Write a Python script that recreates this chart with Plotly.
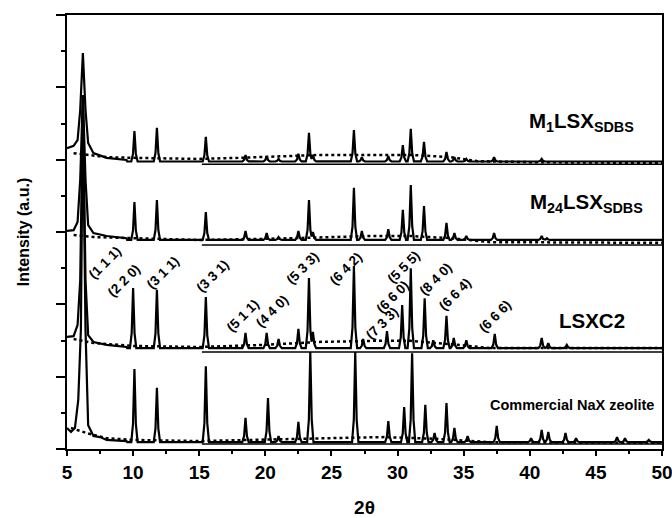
import numpy as np
import plotly.graph_objects as go

# ---------------- data ----------------
# low-angle part of every pattern (2theta, intensity a.u.)
m1_lead_x = [5.0, 5.5, 5.8, 6.0, 6.2, 6.4, 6.6, 7.0, 8.0, 9.5]
m1_lead_y = [8.32, 8.38, 8.54, 9.37, 10.95, 9.37, 8.46, 8.18, 8.05, 7.99]
m24_lead_x = [5.0, 5.5, 5.8, 6.0, 6.2, 6.4, 6.6, 7.0, 8.0, 9.5]
m24_lead_y = [6.03, 6.05, 6.28, 7.44, 9.79, 7.44, 6.19, 5.97, 5.89, 5.83]
lsx_lead_x = [5.0, 5.5, 5.8, 6.0, 6.2, 6.4, 6.6, 7.0, 8.0, 9.5]
lsx_lead_y = [3.10, 3.12, 3.43, 4.67, 9.65, 4.67, 3.15, 2.96, 2.88, 2.82]
com_lead_x = [5.0, 5.3, 5.6, 5.85, 6.05, 6.2, 6.4, 6.6, 7.0, 7.5, 8.0, 9.5]
com_lead_y = [0.58, 0.47, 0.58, 1.35, 3.29, 9.37, 3.29, 0.66, 0.36, 0.33, 0.25, 0.22]

# flat background level of each pattern above 9.5 deg
m1_base, m24_base, lsx_base, com_base = 7.95, 5.78, 2.79, 0.19

# reflections: position and top intensity
m1_pk_x = [10.1, 11.8, 15.5, 18.5, 20.1, 21.0, 22.5, 23.3, 23.6, 26.7, 27.3, 29.3,
           30.4, 31.0, 32.0, 33.7, 34.3, 35.2, 37.3, 40.9]
m1_pk_y = [8.79, 8.88, 8.63, 8.13, 8.10, 8.02, 8.16, 8.74, 8.13, 8.82, 8.07, 8.10,
           8.40, 8.85, 8.49, 8.21, 8.07, 8.02, 8.07, 8.02]
m24_pk_x = [10.1, 11.8, 15.5, 18.5, 20.1, 21.0, 22.5, 23.3, 23.6, 26.7, 27.3, 29.3,
            30.4, 31.0, 32.0, 33.7, 34.3, 35.2, 37.3, 40.9, 41.3]
m24_pk_y = [6.83, 6.88, 6.55, 6.03, 5.97, 5.86, 6.03, 6.88, 6.00, 7.22, 6.03, 6.08,
            6.61, 7.30, 6.72, 6.25, 5.97, 5.89, 5.97, 5.89, 5.83]
lsx_pk_x = [10.0, 11.8, 15.5, 18.5, 20.1, 21.0, 22.5, 23.3, 23.6, 26.7, 27.4, 29.2,
            30.35, 31.0, 32.05, 32.7, 33.7, 34.25, 35.2, 37.35, 40.9, 41.4, 42.8]
lsx_pk_y = [4.45, 4.40, 4.20, 3.21, 3.21, 3.04, 3.32, 4.73, 3.24, 5.06, 3.04, 3.26,
            3.98, 5.00, 4.17, 3.01, 3.68, 3.07, 3.01, 3.18, 3.07, 2.93, 2.88]
com_pk_x = [10.1, 11.8, 15.5, 18.5, 20.2, 21.0, 22.5, 23.4, 26.8, 29.3, 30.5, 31.1,
            32.1, 32.8, 33.7, 34.3, 35.3, 37.5, 40.1, 40.9, 41.4, 42.7, 43.5, 46.6,
            47.2, 49.0]
com_pk_y = [2.21, 1.69, 2.29, 0.86, 1.41, 0.36, 0.75, 2.68, 2.68, 0.77, 1.16, 2.65,
            1.22, 0.44, 1.27, 0.58, 0.36, 0.64, 0.30, 0.53, 0.47, 0.44, 0.30, 0.33,
            0.30, 0.25]

# dotted background curves
m1_bg_x = [5.5, 6.5, 8, 10, 15, 18, 21, 24, 28, 31, 34, 36, 40, 50]
m1_bg_y = [8.18, 8.13, 8.07, 8.05, 8.02, 8.05, 8.10, 8.13, 8.13, 8.13, 8.07, 7.96, 7.93, 7.91]
m24_bg_x = [5.5, 7, 10, 15, 20, 24, 28, 31, 34, 37, 50]
m24_bg_y = [5.92, 5.86, 5.83, 5.78, 5.81, 5.86, 5.89, 5.89, 5.83, 5.72, 5.70]
lsx_bg_x = [5.5, 7, 10, 15, 20, 24, 28, 31, 34, 37, 50]
lsx_bg_y = [3.04, 2.93, 2.85, 2.82, 2.88, 2.96, 2.99, 2.99, 2.90, 2.79, 2.79]
com_bg_x = [5.3, 6.5, 8, 10, 15, 20, 25, 29, 33, 37, 50]
com_bg_y = [0.58, 0.44, 0.30, 0.25, 0.22, 0.25, 0.30, 0.33, 0.28, 0.19, 0.17]

# solid reference lines (start, level)
ref_start = 15.2
ref_levels = [7.87, 5.64, 2.68, 0.14]

# Miller-index labels
hkl_text = ["(1 1 1)", "(2 2 0)", "(3 1 1)", "(3 3 1)", "(5 1 1)", "(4 4 0)", "(5 3 3)",
            "(6 4 2)", "(5 5 5)", "(6 6 0)", "(7 3 3)", "(8 4 0)", "(6 6 4)", "(6 6 6)"]
hkl_x = [7.87, 9.31, 12.26, 15.97, 18.31, 20.51, 22.78, 26.1, 30.42, 29.58, 28.83,
         32.84, 34.35, 37.38]
hkl_y = [5.17, 4.67, 4.89, 4.78, 3.70, 3.79, 5.00, 5.00, 5.03, 4.20, 3.46, 4.70,
         4.26, 3.65]

x_ticks = [5, 10, 15, 20, 25, 30, 35, 40, 45, 50]

# ---------------- build profiles ----------------
HW = 0.24  # half width of a drawn reflection (style)


def profile(lead_x, lead_y, base, px, py):
    px = np.asarray(px, float)
    py = np.asarray(py, float)
    xs = [lead_x[-1] + 0.05]
    for p in px:
        xs += [p - HW, p - 0.45 * HW, p, p + 0.45 * HW, p + HW]
    xs.append(50.0)
    xs = np.unique(np.array(xs))
    xs = xs[xs > lead_x[-1]]
    ys = np.full(xs.shape, base)
    for p, h in zip(px, py):
        d = np.abs(xs - p)
        tri = np.where(d <= 0.45 * HW,
                       h - (h - base) * (d / (0.45 * HW)) * 0.75,
                       base + (h - base) * 0.25 * np.clip((HW - d) / (0.55 * HW), 0, 1))
        ys = np.maximum(ys, tri)
    return list(lead_x) + list(xs), list(lead_y) + list(ys)


fig = go.Figure()
series = [
    (m1_lead_x, m1_lead_y, m1_base, m1_pk_x, m1_pk_y, m1_bg_x, m1_bg_y),
    (m24_lead_x, m24_lead_y, m24_base, m24_pk_x, m24_pk_y, m24_bg_x, m24_bg_y),
    (lsx_lead_x, lsx_lead_y, lsx_base, lsx_pk_x, lsx_pk_y, lsx_bg_x, lsx_bg_y),
    (com_lead_x, com_lead_y, com_base, com_pk_x, com_pk_y, com_bg_x, com_bg_y),
]
for (lx, ly, b, pkx, pky, bgx, bgy), lvl in zip(series, ref_levels):
    fig.add_trace(go.Scatter(x=bgx, y=bgy, mode="lines",
                             line=dict(color="black", width=2.5, dash="dot"),
                             hoverinfo="skip"))
    fig.add_trace(go.Scatter(x=[ref_start, 50], y=[lvl, lvl], mode="lines",
                             line=dict(color="black", width=1.5), hoverinfo="skip"))
    X, Y = profile(lx, ly, b, pkx, pky)
    fig.add_trace(go.Scatter(x=X, y=Y, mode="lines",
                             line=dict(color="black", width=2.2), hoverinfo="skip"))

FONT = "Liberation Sans, Arial, sans-serif"
ann = []
for t, x, y in zip(hkl_text, hkl_x, hkl_y):
    ann.append(dict(x=x, y=y, xref="x", yref="y", text="<b>" + t + "</b>",
                    showarrow=False, textangle=-45,
                    font=dict(family=FONT, size=13.5, color="black")))

labels = [("<b>M<sub>1</sub>LSX<sub>SDBS</sub></b>", 581, 122, 20.5),
          ("<b>M<sub>24</sub>LSX<sub>SDBS</sub></b>", 586, 203, 20.5),
          ("<b>LSXC2</b>", 592, 320, 20.5),
          ("<b>Commercial NaX zeolite</b>", 572, 405, 14.5)]
W, H = 672, 518
ML, MR, MT, MB = 67, 10, 15, 69
for t, px, py, s in labels:
    ann.append(dict(x=(px - ML) / (W - ML - MR), y=(H - MB - py) / (H - MT - MB),
                    xref="paper", yref="paper", text=t, showarrow=False,
                    xanchor="center", yanchor="middle",
                    font=dict(family=FONT, size=s, color="black")))

fig.update_layout(
    width=W, height=H,
    margin=dict(l=ML, r=MR, t=MT, b=MB, autoexpand=False),
    paper_bgcolor="white", plot_bgcolor="white",
    showlegend=False,
    annotations=ann,
    font=dict(family=FONT, color="black"),
)
fig.update_xaxes(range=[5, 50], tickvals=x_ticks, ticktext=["<b>%d</b>" % v for v in x_ticks],
                 ticks="outside", ticklen=5, tickwidth=2, tickcolor="black",
                 minor=dict(dtick=2.5, ticks="outside", ticklen=3, tickwidth=2, tickcolor="black"),
                 showline=True, linewidth=2, linecolor="black", mirror=True,
                 showgrid=False, zeroline=False, automargin=False,
                 ticklabeloverflow="allow",
                 tickfont=dict(family=FONT, size=19, color="black"),
                 title=dict(text="<b>2θ</b>", font=dict(family=FONT, size=19, color="black"),
                            standoff=22))
fig.update_yaxes(range=[0, 12], dtick=2, tick0=0, showticklabels=False,
                 ticks="outside", ticklen=9, tickwidth=2, tickcolor="black",
                 minor=dict(dtick=1, ticks="outside", ticklen=4, tickwidth=2, tickcolor="black"),
                 showline=True, linewidth=2, linecolor="black", mirror=True,
                 showgrid=False, zeroline=False, automargin=False,
                 title=dict(text="<b>Intensity (a.u.)</b>",
                            font=dict(family=FONT, size=16, color="black"), standoff=22))

fig.write_html("out.html",
               config={"displayModeBar": False},
               post_script="document.body.style.margin='0';document.body.style.padding='0';"
                           "document.body.style.overflow='hidden';")
